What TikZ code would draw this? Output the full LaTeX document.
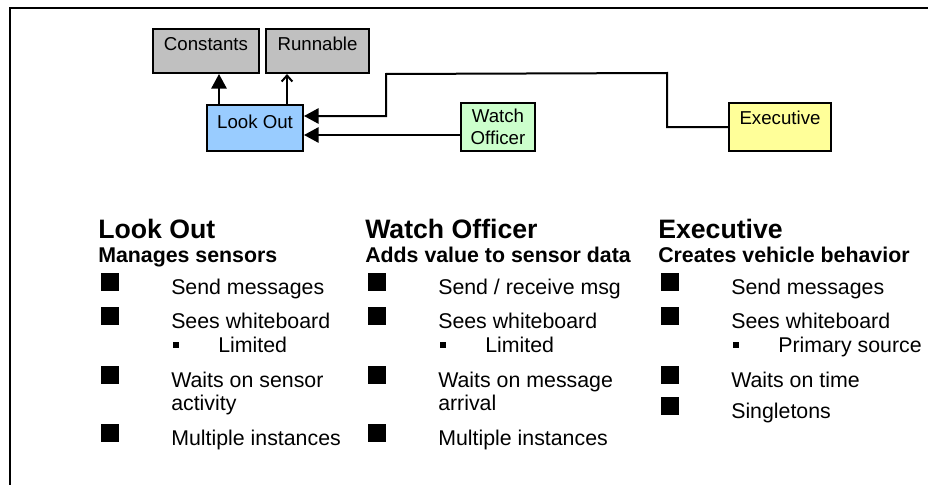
\documentclass[tikz,border=0pt]{standalone}
\usepackage{fontspec}
\setmainfont{Liberation Sans}
\usetikzlibrary{arrows.meta}

\definecolor{boxgray}{HTML}{C0C0C0}
\definecolor{boxblue}{HTML}{99CCFF}
\definecolor{boxgreen}{HTML}{CCFFCC}
\definecolor{boxyellow}{HTML}{FFFF99}

% big and small bullet squares, (x of heading, baseline)
\newcommand{\bigbul}[2]{\fill (#1+3,#2-21) rectangle ++(18,18);}
\newcommand{\smallbul}[2]{\fill (#1+75,#2-10) rectangle ++(6,6);}

\tikzset{
  blk/.style={draw, line width=1.5pt, inner sep=0pt, font=\fontsize{14}{16.8}\selectfont},
  hd/.style={anchor=base west, inner sep=0pt, font=\fontsize{20}{24}\selectfont\bfseries},
  sub/.style={anchor=base west, inner sep=0pt, font=\fontsize{16}{19}\selectfont\bfseries},
  txt/.style={anchor=base west, inner sep=0pt, font=\fontsize{16}{19}\selectfont},
  filltip/.style={-{Triangle[length=11pt,width=11.5pt]}, line width=1.5pt},
  opentip/.style={-{Straight Barb[length=4.5pt,width=8pt]}, line width=1.5pt}
}

\begin{document}
\begin{tikzpicture}[x=0.75pt,y=-0.75pt]
\useasboundingbox (0,0) rectangle (928,485);

% frame
\draw [line width=1.5pt] (928,8) -- (10,8) -- (10,485);

% blocks
\node [blk, fill=boxgray, minimum width=80pt, minimum height=33pt,
       text height=7pt, text depth=7pt] (const) at (206,51) {Constants};
\node [blk, fill=boxgray, minimum width=77.5pt, minimum height=33pt,
       text height=7pt, text depth=7pt] (run) at (317.5,51) {Runnable};
\node [blk, fill=boxblue, minimum width=72pt, minimum height=34.5pt,
       text height=7pt, text depth=7pt] (look) at (255,128) {Look Out};
\node [blk, fill=boxgreen, minimum width=55.5pt, minimum height=36pt,
       align=center] (watch) at (498,127) {Watch\\Officer};
\node [blk, fill=boxyellow, minimum width=76.5pt, minimum height=36pt,
       text height=7pt, text depth=11.5pt] (exec) at (780,127) {Executive};

% connectors
\coordinate (cx) at (219,0);
\coordinate (rx) at (287,0);
\coordinate (bend) at (386,116);
\draw [filltip] (cx |- look.north) -- (cx |- const.south);
\draw [opentip] (rx |- look.north) -- (rx |- run.south);
\draw [filltip] (exec.west) -- ++(-61,0) -- ++(0,-54) -- (386,74) -- (bend) -- (bend -| look.east);
\draw [filltip] ([yshift=-6pt]watch.west) -- ([yshift=-6pt]watch.west -| look.east);

% Look Out column
\node [hd] (lohd) at (98,238) {Look Out};
\node [sub] (losub) at (98,262) {Manages sensors};
\bigbul{98}{294} \node [txt] (lo1) at (171,294) {Send messages};
\bigbul{98}{328} \node [txt] (lo2) at (171,328) {Sees whiteboard};
\smallbul{98}{352} \node [txt] (lo2a) at (218,352) {Limited};
\bigbul{98}{387} \node [txt] (lo3) at (171,387) {Waits on sensor};
\node [txt] (lo3b) at (171,410) {activity};
\bigbul{98}{445} \node [txt] (lo4) at (171,445) {Multiple instances};

% Watch Officer column
\node [hd] (wohd) at (365,238) {Watch Officer};
\node [sub] (wosub) at (365,262) {Adds value to sensor data};
\bigbul{365}{294} \node [txt] (wo1) at (438,294) {Send / receive msg};
\bigbul{365}{328} \node [txt] (wo2) at (438,328) {Sees whiteboard};
\smallbul{365}{352} \node [txt] (wo2a) at (485,352) {Limited};
\bigbul{365}{387} \node [txt] (wo3) at (438,387) {Waits on message};
\node [txt] (wo3b) at (438,410) {arrival};
\bigbul{365}{445} \node [txt] (wo4) at (438,445) {Multiple instances};

% Executive column
\node [hd] (exhd) at (658,238) {Executive};
\node [sub] (exsub) at (658,262) {Creates vehicle behavior};
\bigbul{658}{294} \node [txt] (ex1) at (731,294) {Send messages};
\bigbul{658}{328} \node [txt] (ex2) at (731,328) {Sees whiteboard};
\smallbul{658}{352} \node [txt] (ex2a) at (778,352) {Primary source};
\bigbul{658}{387} \node [txt] (ex3) at (731,387) {Waits on time};
\bigbul{658}{418} \node [txt] (ex4) at (731,418) {Singletons};
\end{tikzpicture}
\end{document}
